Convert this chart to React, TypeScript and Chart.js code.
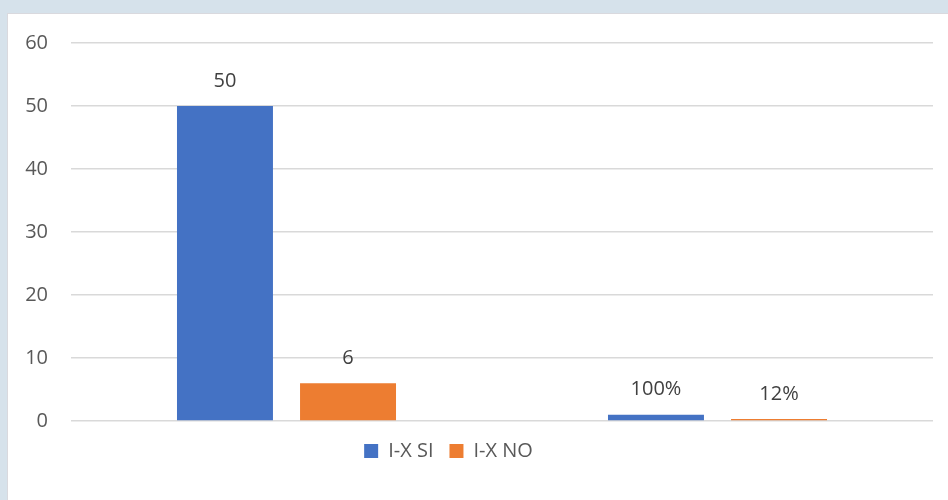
import React, { useEffect, useRef } from "react";
import { Chart, registerables } from "chart.js";

Chart.register(...registerables);

const categories = ["", ""];
const seriesNames = ["I-X SI", "I-X NO"];
const siValues = [50, 1];
const noValues = [6, 0.12];
const siLabels = ["50", "100%"];
const noLabels = ["6", "12%"];
const yTicks = [0, 10, 20, 30, 40, 50, 60];

const FONT = "'Open Sans', 'DejaVu Sans', sans-serif";

const valueLabelPlugin = {
  id: "valueLabels",
  afterDatasetsDraw(chart: any) {
    const ctx = chart.ctx;
    const all = [siLabels, noLabels];
    ctx.save();
    ctx.font = `20px ${FONT}`;
    ctx.fillStyle = "#404040";
    ctx.textAlign = "center";
    ctx.textBaseline = "middle";
    chart.data.datasets.forEach((ds: any, di: number) => {
      const meta = chart.getDatasetMeta(di);
      meta.data.forEach((el: any, i: number) => {
        ctx.fillText(all[di][i], el.x, el.y - 25);
      });
    });
    ctx.restore();
  },
};

const legendShiftPlugin = {
  id: "legendShift",
  afterLayout(chart: any) {
    const lg = chart.legend;
    if (!lg) return;
    lg.left -= 18;
    lg.right -= 18;
    lg.top += 4;
    lg.bottom += 4;
  },
};

export default function App() {
  const ref = useRef<HTMLCanvasElement>(null);
  useEffect(() => {
    document.body.style.margin = "0";
    const chart = new Chart(ref.current!, {
      type: "bar",
      data: {
        labels: categories,
        datasets: [
          {
            label: seriesNames[0],
            data: siValues,
            backgroundColor: "#4472C4",
            categoryPercentage: 0.571,
            barPercentage: 0.78,
          },
          {
            label: seriesNames[1],
            data: noValues,
            backgroundColor: "#ED7D31",
            categoryPercentage: 0.571,
            barPercentage: 0.78,
            minBarLength: 2,
          },
        ],
      },
      options: {
        animation: false,
        responsive: false,
        maintainAspectRatio: false,
        layout: { padding: { top: 43, right: 15, left: 0, bottom: 33 } },
        scales: {
          x: { display: false },
          y: {
            min: yTicks[0],
            max: yTicks[yTicks.length - 1],
            afterFit: (s: any) => {
              s.width = 71;
            },
            afterBuildTicks: (s: any) => {
              s.ticks = yTicks.map((v) => ({ value: v }));
            },
            ticks: {
              padding: 23,
              color: "#595959",
              font: { family: FONT, size: 20 },
            },
            grid: { color: "#D9D9D9", lineWidth: 1.5, drawTicks: false },
            border: { display: false },
          },
        },
        plugins: {
          legend: {
            position: "bottom",
            labels: {
              boxWidth: 14,
              boxHeight: 14,
              padding: 16,
              color: "#595959",
              font: { family: FONT, size: 20 },
            },
          },
          tooltip: { enabled: false },
        },
      },
      plugins: [valueLabelPlugin, legendShiftPlugin],
    });
    return () => chart.destroy();
  }, []);
  return (
    <div style={{ position: "relative", width: 948, height: 500, background: "#D6E2EB", overflow: "hidden" }}>
      <div
        style={{
          position: "absolute",
          left: 7,
          top: 13,
          right: 0,
          bottom: 0,
          background: "#FFFFFF",
          borderTop: "1px solid #D9D9DE",
          borderLeft: "1px solid #D9D9DE",
        }}
      />
      <canvas ref={ref} width={948} height={500} style={{ position: "absolute", left: 0, top: 0 }} />
    </div>
  );
}
